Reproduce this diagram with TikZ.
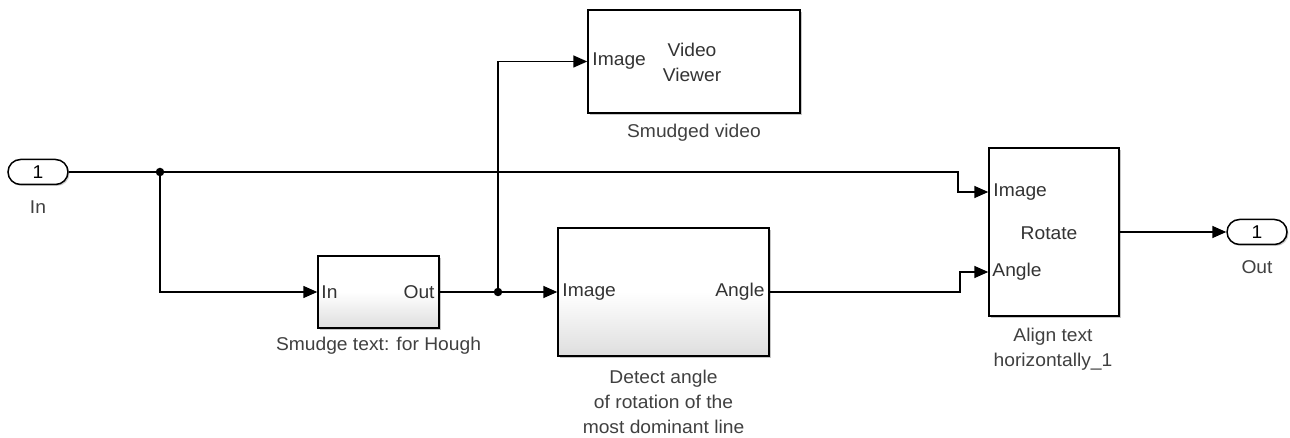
\documentclass[tikz,border=0pt]{standalone}
\usepackage{fontspec}
\setmainfont{Liberation Sans}[FakeStretch=1.04]
\usetikzlibrary{arrows.meta,calc,shadows,shapes.misc}
\definecolor{lblgray}{HTML}{333333}
\definecolor{capgray}{HTML}{404040}
\tikzset{
  blk/.style={draw=black, line width=1.5pt, fill=white, inner sep=0pt,
    drop shadow={shadow xshift=2pt, shadow yshift=-2pt, fill=black, opacity=0.22}},
  subsys/.style={blk, top color=white, bottom color=black!13, middle color=white},
  port/.style={draw=black, line width=1.5pt, fill=white, rounded rectangle, inner sep=0pt,
    minimum width=60pt, minimum height=25pt, font=\fontsize{18.5}{20}\selectfont,
    drop shadow={shadow xshift=1.5pt, shadow yshift=-1.5pt, fill=black, opacity=0.2}},
  lbl/.style={text=lblgray, inner sep=0pt, font=\fontsize{18.5}{21}\selectfont},
  captxt/.style={text=capgray, inner sep=0pt, align=center, font=\fontsize{18.5}{25}\selectfont},
  sig/.style={draw=black, line width=1.6pt, -{Triangle[length=14pt,width=12pt]}},
  wire/.style={draw=black, line width=1.6pt},
  jdot/.style={circle, fill=black, inner sep=0pt, minimum size=8.5pt}
}
\begin{document}
\begin{tikzpicture}[x=1pt,y=-1pt]
\useasboundingbox[fill=white] (0,0) rectangle (1290,438);

% ports
\node[port] (inport) at (38,172) {1};
\node[captxt] (inlbl) at (38,207) {In};
\node[port] (outport) at (1257,232) {1};
\node[captxt] (outlbl) at (1257,267) {Out};

% blocks
\node[subsys, minimum width=121pt, minimum height=72pt] (smudge) at (378.5,292) {};
\node[lbl, anchor=west] (smIn) at ($(smudge.west)+(4,0)$) {In};
\node[lbl, anchor=east] (smOut) at ($(smudge.east)+(-5,0)$) {Out};
\node[captxt] (smcap) at (378.5,346) {Smudge text: for Hough};

\node[blk, minimum width=212pt, minimum height=103pt] (viewer) at (694,61.5) {};
\node[lbl, anchor=west] (vImg) at ($(viewer.west)+(5,0)$) {Image};
\node[lbl, align=center, font=\fontsize{18.5}{25}\selectfont] (vTxt) at (692,62) {Video\\Viewer};
\node[captxt] (vcap) at (694,133) {Smudged video};

\node[subsys, minimum width=211pt, minimum height=128pt] (detect) at (663.5,292) {};
\node[lbl, anchor=west] (dImg) at ($(detect.west)+(5,0)$) {Image};
\node[lbl, anchor=east] (dAng) at ($(detect.east)+(-5,0)$) {Angle};
\node[captxt] (dcap) at (663.5,402) {Detect angle\\of rotation of the\\most dominant line};

\node[blk, minimum width=130pt, minimum height=168pt] (rotate) at (1054,232) {};
\coordinate (rotImg) at ($(rotate.west)+(0,-40)$);
\coordinate (rotAng) at ($(rotate.west)+(0,40)$);
\node[lbl, anchor=west] (rImg) at ($(rotImg)+(5,0)$) {Image};
\node[lbl, anchor=west] (rAng) at ($(rotAng)+(4,0)$) {Angle};
\node[lbl] (rTxt) at (1049,233) {Rotate};
\node[captxt] (rcap) at (1053,349) {Align text\\horizontally\_1};

% junctions
\node[jdot] (j1) at (160,172) {};
\node[jdot] (j2) at (498,292) {};

% connectors
\draw[wire] (inport.east) -- (j1.center);
\draw[sig] (j1.center) -- ++(798,0) |- (rotImg);
\draw[sig] (j1.center) |- (smudge.west);
\draw[wire] (smudge.east) -- (j2.center);
\draw[sig] (j2.center) -- (detect.west);
\draw[sig] (j2.center) |- (viewer.west);
\draw[sig] (detect.east) -- ++(190,0) |- (rotAng);
\draw[sig] (rotate.east) -- (outport.west);
\end{tikzpicture}
\end{document}
